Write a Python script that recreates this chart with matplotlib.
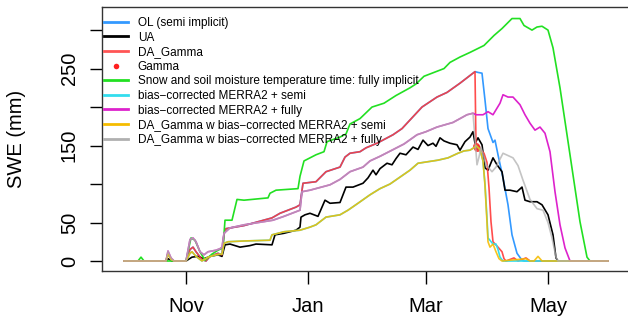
import numpy as np
import matplotlib
matplotlib.use("Agg")
from matplotlib import pyplot as plt
from matplotlib.lines import Line2D

plt.rcParams['font.family'] = ['Liberation Sans', 'DejaVu Sans']

# days since Oct 1; SWE in mm
ol_days = [0, 21, 22, 23.5, 25, 31, 33, 34.5, 36, 39, 41, 43, 47, 49, 50, 51, 60, 74, 78, 86, 88, 89.5,
           96, 101, 108, 110.5, 113, 118, 121, 126.5, 134.5, 139, 144, 149, 156.5, 161.5, 168, 171.5,
           174.5, 175.5, 177, 179, 180.5, 182, 184.5, 185.5, 187, 189.5, 192, 194, 196.5, 199, 200, 242]
ol_swe = [0, 0, 10, 2, 0, 0, 15, 18, 12, 2, 0, 6, 10, 8, 35, 42, 46, 56, 62, 70, 73, 101,
          103, 116, 122, 135, 140, 142, 147, 153, 164, 172, 186, 200, 213, 219, 231, 238,
          244, 246, 245, 244, 209, 172, 154, 157, 138, 108, 73, 34, 10, 1, 0, 0]

# DA_Gamma follows OL until the Gamma update
da_post_days = [176, 177, 178, 180, 181.5, 182.5, 183.5, 184.5, 187, 189, 190, 191, 195, 197, 201, 203, 242]
da_post_swe = [148, 150, 145, 140, 128, 95, 51, 25, 18, 12, 3, 0, 4, 0, 4, 0, 0]
update_day = 175.5

gamma_days = [175.8, 176.6]
gamma_swe = [150, 147]

ua_days = [0, 21, 22, 24, 31, 34, 37, 40, 43, 47, 49, 50.5, 53, 58, 63, 66, 74, 75.5, 80, 86, 88, 88.5,
           90.5, 93, 97, 100.5, 103, 108, 111, 114.5, 119.5, 122, 124.5, 126, 128, 131.5, 134, 136,
           138, 141, 144.5, 147, 149.5, 152, 154.5, 156, 158, 160, 163, 166.5, 168, 170.5, 173, 174.5,
           175.5, 177, 179, 180.5, 182, 184.5, 186.5, 189, 190.5, 193, 196.5, 199, 200.5, 203, 206.5,
           209, 212, 214.5, 216, 217, 242]
ua_swe = [0, 0, 3, 0, 0, 5, 6, 3, 6, 8, 6, 21, 22, 18, 20, 22, 21, 34, 36, 40, 44, 57,
          60, 62, 58, 79, 75, 76, 96, 96, 101, 108, 118, 112, 120, 127, 125, 133,
          140, 138, 148, 145, 157, 150, 153, 149, 160, 156, 153, 151, 144, 155, 161, 168,
          153, 160, 151, 121, 118, 134, 125, 116, 92, 92, 90, 96, 79, 77, 77,
          73, 60, 34, 4, 0, 0]

fully_days = [0, 7, 8.5, 10, 31, 33.5, 35.5, 38, 40.5, 44, 47, 49.5, 50.5, 54, 56.5, 60, 72, 73, 76, 87,
              88, 90, 96, 100, 101.5, 108, 111, 113, 118, 124, 130, 136, 143, 146, 150, 156, 160,
              163, 168, 173, 180, 185, 189, 194, 198, 200, 204, 206.5, 209, 212, 214.5, 218, 223,
              228, 231.5, 233, 242]
fully_swe = [0, 0, 5, 0, 0, 30, 27, 12, 1, 9, 14, 17, 53, 53, 80, 79, 82, 88, 92, 94,
             110, 130, 138, 142, 155, 161, 165, 178, 185, 200, 205, 215, 225, 230, 240, 246, 250,
             258, 265, 271, 280, 293, 302, 315, 315, 306, 300, 304, 305, 300, 277, 225, 138,
             51, 5, 0, 0]

semi_bc_days = [0, 21, 22, 23.5, 25, 31, 33, 34, 36, 39, 42, 46, 49, 50, 52, 60, 73, 74, 80, 88, 93,
                96, 101, 108, 112, 117, 123, 128, 133, 138, 143, 147, 152, 157, 162, 167, 170, 173,
                175.5, 176, 178, 179.5, 180.5, 181.5, 182, 184.5, 186, 187, 188, 189.5, 242]
semi_bc_swe = [0, 0, 9, 2, 0, 0, 10, 12, 6, 0, 5, 8, 9, 23, 25, 26, 27, 34, 38, 40, 44,
               47, 57, 60, 66, 75, 86, 94, 100, 109, 118, 127, 129, 131, 134, 140, 143, 144,
               148, 150, 145, 130, 100, 55, 30, 22, 22, 15, 5, 0, 0]

# DA_Gamma w bias-corrected MERRA2 + semi after the update
semi_da_post_days = [176, 178, 179.5, 180.5, 181.5, 182, 183, 184.5, 186, 187.5, 189, 201, 203, 205, 207, 209, 242]
semi_da_post_swe = [150, 145, 130, 98, 50, 25, 18, 22, 12, 3, 0, 3, 0, 0, 6, 0, 0]

fully_bc_days = [0, 21, 22, 23.5, 25, 31, 33, 34.5, 36, 38, 40, 42, 46, 48, 49, 50, 53, 60, 74.5, 80, 88,
                 89, 93, 103, 108, 113, 119.5, 123, 128, 134, 140, 146.5, 151, 156.5, 164.5, 171.5,
                 174.5, 176, 179.5, 182, 184.5, 188, 189.5, 192, 194.5, 198, 200.5, 203, 205.5, 208,
                 210.5, 213, 215.5, 218, 220.5, 223, 242]
fully_bc_swe = [0, 0, 13, 4, 0, 0, 28, 30, 25, 12, 8, 12, 14, 16, 18, 36, 43, 47, 53, 58, 66,
                90, 92, 99, 106, 116, 122, 130, 136, 144, 152, 164, 168, 174, 180, 190,
                192, 190, 190, 194, 190, 205, 216, 213, 213, 203, 190, 179, 170, 174,
                166, 142, 90, 47, 17, 0, 0]

# DA_Gamma w bias-corrected MERRA2 + fully after the update
fully_da_post_days = [176.5, 177.5, 178.5, 181, 184, 186, 189.5, 194.5, 197, 199.5, 203, 206.5, 209.5,
                      212, 214, 216, 217, 242]
fully_da_post_swe = [125, 135, 148, 125, 116, 122, 140, 134, 124, 105, 80, 68, 66, 50, 30, 5, 0, 0]


def after_update(days, swe, post_days, post_swe):
    days = np.asarray(days, float)
    swe = np.asarray(swe, float)
    keep = days <= update_day
    return (np.concatenate([days[keep], post_days]),
            np.concatenate([swe[keep], post_swe]))


da_days, da_swe = after_update(ol_days, ol_swe, da_post_days, da_post_swe)
semi_da_days, semi_da_swe = after_update(semi_bc_days, semi_bc_swe, semi_da_post_days, semi_da_post_swe)
fully_da_days, fully_da_swe = after_update(fully_bc_days, fully_bc_swe, fully_da_post_days, fully_da_post_swe)

c_ol = "#3399FF"
c_da = "#FF3A3A"
c_fully = "#22E022"
c_semi_bc = "#33DDEE"
c_fully_bc = "#DD22CC"
c_semi_da = "#F5BC00"
c_fully_da = "#B0B0B0"

fig = plt.figure(figsize=(6.28, 3.18), dpi=100)
ax = fig.add_axes([102 / 628, 1 - 271 / 318, 528 / 628, 264 / 318])

lw = 1.2
ax.plot(ol_days, ol_swe, color=c_ol, lw=lw)
ax.plot(ua_days, ua_swe, color="black", lw=lw)
ax.plot(da_days, da_swe, color=c_da, lw=lw, alpha=0.9)
ax.plot(gamma_days, gamma_swe, 'o', color="#FF2020", ms=5, mec='none', alpha=0.85)
ax.plot(fully_days, fully_swe, color=c_fully, lw=lw)
ax.plot(semi_bc_days, semi_bc_swe, color=c_semi_bc, lw=lw)
ax.plot(fully_bc_days, fully_bc_swe, color=c_fully_bc, lw=lw)
ax.plot(semi_da_days, semi_da_swe, color=c_semi_da, lw=lw, alpha=0.88)
ax.plot(fully_da_days, fully_da_swe, color=c_fully_da, lw=lw, alpha=0.75)

ax.set_xlim(-11, 253)
ax.set_ylim(-13, 330)

month_days = [31, 92, 151, 212]
month_labels = ["Nov", "Jan", "Mar", "May"]
ax.set_xticks(month_days)
ax.set_xticklabels(month_labels)
y_ticks = [0, 50, 100, 150, 200, 250, 300]
y_labels = ["0", "50", "", "150", "", "250", ""]
ax.set_yticks(y_ticks)
ax.set_yticklabels(y_labels, rotation=90, va='center')

ax.tick_params(axis='x', length=9.4, width=1, labelsize=14.5, pad=9)
ax.tick_params(axis='y', length=8.6, width=1, labelsize=14.5, pad=8)
for s in ax.spines.values():
    s.set_linewidth(1.0)
    s.set_color("#333333")

fig.text(17 / 628, 1 - 139 / 318, "SWE (mm)", rotation=90, ha='center', va='center', fontsize=14.5)

handles = [
    Line2D([], [], color=c_ol, lw=2),
    Line2D([], [], color="black", lw=2),
    Line2D([], [], color="#FF5555", lw=2),
    Line2D([], [], color="#FF2020", marker='o', ms=4, ls='none', mec='none'),
    Line2D([], [], color=c_fully, lw=2),
    Line2D([], [], color=c_semi_bc, lw=2),
    Line2D([], [], color=c_fully_bc, lw=2),
    Line2D([], [], color=c_semi_da, lw=2),
    Line2D([], [], color=c_fully_da, lw=2),
]
labels = ["OL (semi implicit)", "UA", "DA_Gamma", "Gamma",
          "Snow and soil moisture temperature time: fully implicit",
          "bias\u2212corrected MERRA2 + semi", "bias\u2212corrected MERRA2 + fully",
          "DA_Gamma w bias\u2212corrected MERRA2 + semi",
          "DA_Gamma w bias\u2212corrected MERRA2 + fully"]
fig.legend(handles, labels, loc='upper left', bbox_to_anchor=(104 / 628, 1 - 17 / 318),
           frameon=False, fontsize=8.5, handlelength=2.0, handletextpad=0.85,
           labelspacing=0.22, borderpad=0, borderaxespad=0, numpoints=1)

fig.savefig("out.png", dpi=100)
